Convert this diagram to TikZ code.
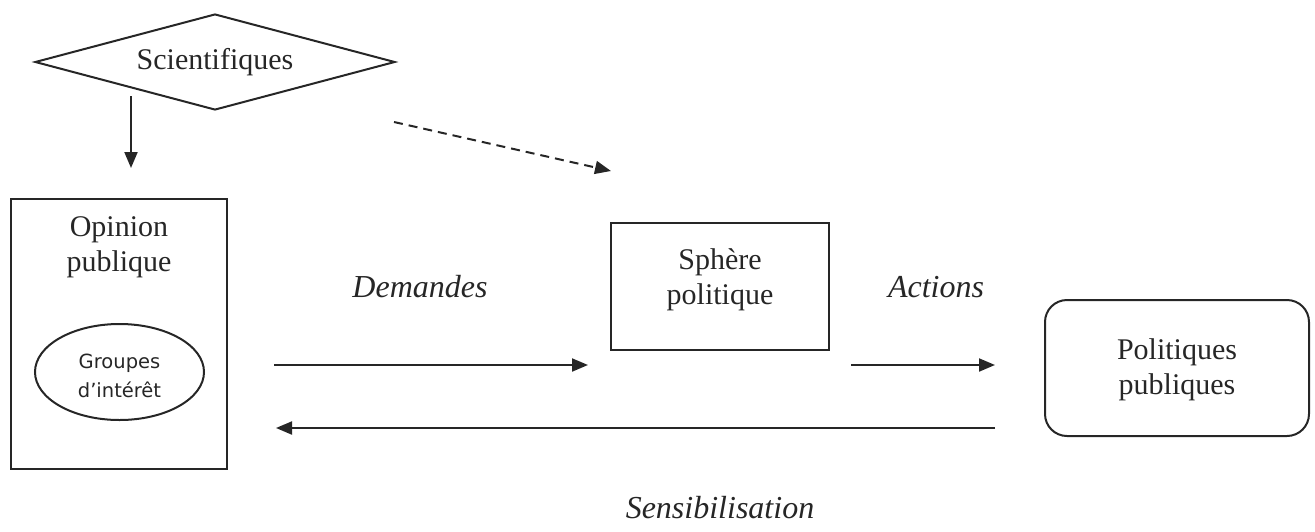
\documentclass[tikz,border=0pt]{standalone}
\usepackage{fontspec}
\setmainfont{Liberation Serif}
\newfontfamily\grpfont{DejaVu Sans}
\usetikzlibrary{shapes.geometric,arrows.meta}
\definecolor{ink}{HTML}{262626}
\tikzset{
  every node/.style={text=ink},
  box/.style={draw=ink,line width=2pt,inner sep=0pt},
  lbl/.style={font=\fontsize{30}{35}\selectfont,align=center,inner sep=0pt},
  ital/.style={font=\fontsize{32}{35}\selectfont\itshape,inner sep=0pt},
  conn/.style={draw=ink,line width=2pt,-{Triangle[length=16pt,width=13pt]}},
}
\begin{document}
\begin{tikzpicture}[x=1pt,y=-1pt]
\useasboundingbox (0,0) rectangle (1315,531);
% nodes
\node[box,diamond,minimum width=360pt,minimum height=96pt,aspect=3.75] (sci) at (215,62) {};
\node[lbl] (scit) at (215,62) {Scientifiques};
\node[box,rectangle,minimum width=216pt,minimum height=270pt] (op) at (119,334) {};
\node[lbl] (opt) at (119,247) {Opinion\\publique};
\node[box,ellipse,minimum width=169pt,minimum height=96pt] (grp) at (119.5,372) {};
\node[align=center,inner sep=0pt,font=\grpfont\fontsize{19.5}{29}\selectfont] (grpt) at (119.5,376) {Groupes\\d’intérêt};
\node[box,rectangle,minimum width=218pt,minimum height=127pt] (sph) at (720,286.5) {};
\node[lbl] (spht) at (720,280) {Sphère\\politique};
\node[box,rectangle,rounded corners=22pt,minimum width=264pt,minimum height=136pt] (pol) at (1177,368) {};
\node[lbl] (polt) at (1177,370) {Politiques\\publiques};
% labels
\node[ital] (dem) at (420,287) {Demandes};
\node[ital] (act) at (936,287) {Actions};
\node[ital] (sens) at (720,508) {Sensibilisation};
% connector endpoints
\coordinate (d1) at (131,96);
\coordinate (d2) at (131,168);
\coordinate (s1) at (394,122);
\coordinate (s2) at (611,171);
\coordinate (m1) at (274,365);
\coordinate (m2) at (588,365);
\coordinate (a1) at (851,365);
\coordinate (a2) at (995,365);
\coordinate (b1) at (995,428);
\coordinate (b2) at (276,428);
% connectors
\draw[conn] (d1) -- (d2);
\draw[conn,dash pattern=on 9pt off 6pt] (s1) -- (s2);
\draw[conn] (m1) -- (m2);
\draw[conn] (a1) -- (a2);
\draw[conn] (b1) -- (b2);
\end{tikzpicture}
\end{document}
